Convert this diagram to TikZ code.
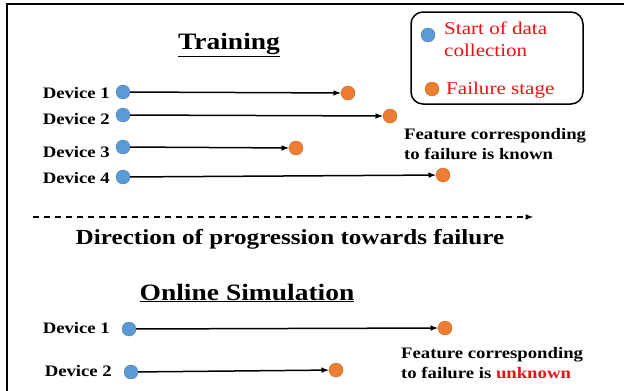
\documentclass[tikz,border=0pt]{standalone}
\usepackage{fontspec}
\setmainfont[FakeStretch=1.17]{Liberation Serif}
\usetikzlibrary{arrows}
\definecolor{dotblue}{HTML}{5B9BD5}
\definecolor{dotorange}{HTML}{ED7D31}
\definecolor{legred}{HTML}{F01010}

\begin{document}
\begin{tikzpicture}[x=1pt, y=-1pt]
\tikzstyle{start}=[circle, fill=dotblue, draw=dotblue!85!black, line width=0.4pt, minimum size=14pt, inner sep=0pt]
\tikzstyle{fail}=[circle, fill=dotorange, draw=dotorange!85!black, line width=0.4pt, minimum size=14pt, inner sep=0pt]
\tikzstyle{dev}=[anchor=east, inner sep=0pt, font=\fontsize{16}{20}\selectfont\bfseries]
\tikzstyle{title}=[inner sep=0pt, font=\fontsize{23.5}{27}\selectfont\bfseries]
\tikzstyle{note}=[anchor=north west, align=left, inner sep=0pt, font=\fontsize{16}{20}\selectfont\bfseries]
\tikzstyle{legtext}=[anchor=west, align=left, inner sep=0pt, text=legred, font=\fontsize{18}{22}\selectfont]
\tikzstyle{arrow}=[-latex, line width=1.5pt]
\useasboundingbox (0,0) rectangle (624,391);
\draw [line width=2.5pt] (7,391) -- (7,4) -- (624,4);

% training
\node (T) [title] at (229,45) {\underline{Training}};
\node (d1) [dev] at (110,93) {Device 1};
\node (d2) [dev] at (110,119) {Device 2};
\node (d3) [dev] at (110,152) {Device 3};
\node (d4) [dev] at (110,178) {Device 4};
\node (b1) [start] at (123,92) {};
\node (b2) [start] at (123,115) {};
\node (b3) [start] at (123,147) {};
\node (b4) [start] at (123,177) {};
\node (o1) [fail] at (348,93) {};
\node (o2) [fail] at (390,116) {};
\node (o3) [fail] at (296,148) {};
\node (o4) [fail] at (443,175) {};
\draw [arrow] (b1) -- (o1);
\draw [arrow] (b2) -- (o2);
\draw [arrow] (b3) -- (o3);
\draw [arrow] (b4) -- (o4);
\node (K) [note] at (404,128) {Feature corresponding\\to failure is known};

% legend
\node (L) [draw, rounded corners=12pt, line width=1.5pt, minimum width=172pt, minimum height=92pt] at (497,58) {};
\node (lb) [start] at (428,35) {};
\node (lo) [fail] at (432,89) {};
\node (ls) [legtext] at (444,39) {Start of data\\collection};
\node (lf) [legtext] at (446,90) {Failure stage};

% direction
\coordinate (DA) at (33,217);
\coordinate (DB) at (533,217);
\draw [arrow, dash pattern=on 6pt off 5pt] (DA) -- (DB);
\node (D) [title, font=\fontsize{21.5}{25}\selectfont\bfseries] at (290,239) {Direction of progression towards failure};

% online
\node (S) [title] at (247,293) {\underline{Online Simulation}};
\node (e1) [dev] at (110,328) {Device 1};
\node (e2) [dev] at (112,371) {Device 2};
\node (c1) [start] at (129,329) {};
\node (c2) [start] at (131,372) {};
\node (p1) [fail] at (445,328) {};
\node (p2) [fail] at (336,370) {};
\draw [arrow] (c1) -- (p1);
\draw [arrow] (c2) -- (p2);
\node (U) [note] at (401,347) {Feature corresponding\\to failure is \textcolor{legred}{unknown}};
\end{tikzpicture}
\end{document}
